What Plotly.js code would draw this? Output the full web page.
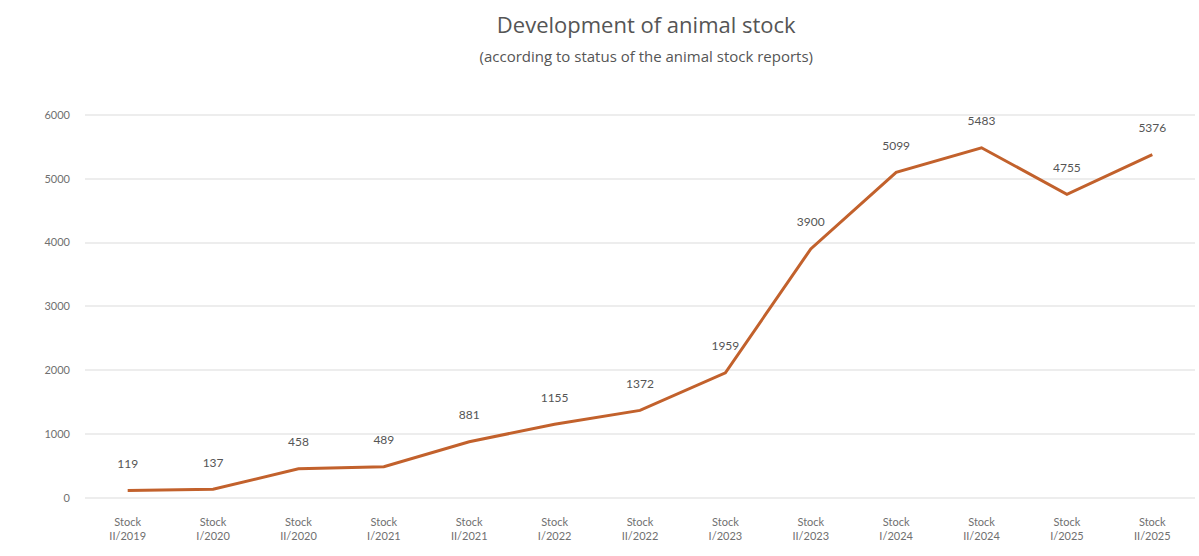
<!DOCTYPE html>
<html><head><meta charset="utf-8">
<script src="https://cdn.plot.ly/plotly-3.0.1.min.js"></script>
<style>html,body{margin:0;padding:0;background:#fff}#chart{width:1199px;height:556px}</style>
</head><body><div id="chart"></div>
<script>
const periods = ["II/2019","I/2020","II/2020","I/2021","II/2021","I/2022","II/2022","I/2023","II/2023","I/2024","II/2024","I/2025","II/2025"];
const categories = periods.map(p => "Stock<br>" + p);
const animalStock = [119,137,458,489,881,1155,1372,1959,3900,5099,5483,4755,5376];

const font = "Lato, 'Open Sans', sans-serif";
const titleFont = "'Open Sans', Lato, sans-serif";
const traces = [
  {x: categories, y: animalStock, type: 'scatter', mode: 'lines',
   line: {color: '#c2612c', width: 3}, hoverinfo: 'skip', showlegend: false},
  {x: categories, y: animalStock, type: 'scatter', mode: 'markers+text',
   text: animalStock.map(String), textposition: 'top center',
   marker: {size: 30, opacity: 0}, textfont: {size: 12, color: '#555', family: font},
   hoverinfo: 'skip', showlegend: false}
];
const layout = {
  width: 1199, height: 556,
  margin: {l: 85, r: 4, t: 102, b: 42},
  paper_bgcolor: '#fff', plot_bgcolor: '#fff',
  font: {family: font, color: '#666'},
  title: {text: "Development of animal stock<br><span style='font-size:15px'>(according to status of the animal stock reports)</span>",
          font: {size: 22, color: '#555', family: titleFont}, x: 0.539, xanchor: 'center', y: 0.965, yanchor: 'top', pad: {t: 14}},
  xaxis: {type: 'category', range: [-0.5, 12.5], showgrid: false, zeroline: false, showline: false,
          tickfont: {size: 11, color: '#707070'}, ticks: '', fixedrange: true},
  yaxis: {range: [-250, 6200], tickvals: [0,1000,2000,3000,4000,5000,6000], showgrid: true,
          gridcolor: '#ededed', gridwidth: 2, zeroline: false, showline: false,
          tickfont: {size: 11, color: '#707070'}, ticklabelstandoff: 14, ticks: ''}
};
Plotly.newPlot('chart', traces, layout, {staticPlot: true, displayModeBar: false});
</script></body></html>
